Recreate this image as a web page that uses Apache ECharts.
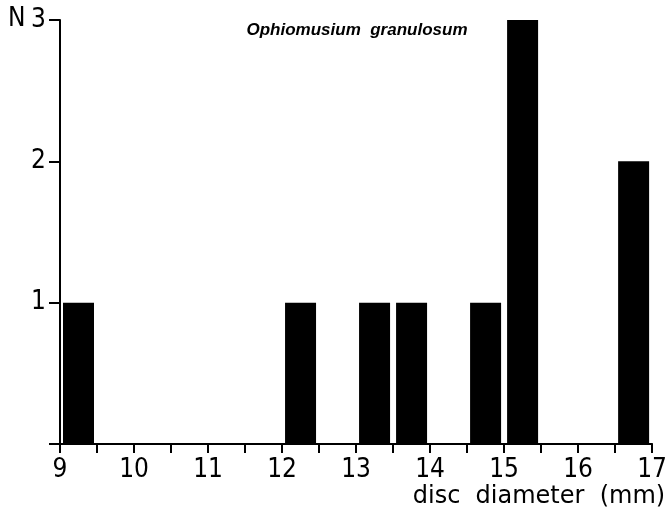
<!DOCTYPE html>
<html>
<head>
<meta charset="utf-8">
<script src="https://cdn.jsdelivr.net/npm/echarts@6/dist/echarts.min.js"></script>
<style>
  html, body { margin: 0; padding: 0; background: #fff; }
  #chart { width: 670px; height: 521px; }
</style>
</head>
<body>
<div id="chart"></div>
<script>
// bin centres (mm) and counts
const binCentres = [9.25, 12.25, 13.25, 13.75, 14.75, 15.25, 16.75]
const counts = [1, 1, 1, 1, 1, 3, 2]
const xTicks = [9, 10, 11, 12, 13, 14, 15, 16, 17]
const yTicks = [1, 2, 3]

const chart = echarts.init(document.getElementById('chart'))
const labelFont = '"DejaVu Sans Condensed", "DejaVu Sans", sans-serif'

const option = {
  animation: false,
  grid: { left: 60, right: 15, top: 20, bottom: 77 },
  title: {
    text: 'Ophiomusium  granulosum',
    left: 352,
    top: 17,
    textAlign: 'center',
    textStyle: { fontFamily: 'Liberation Sans, sans-serif', fontStyle: 'italic', fontWeight: 'bold', fontSize: 17, color: '#000' }
  },
  graphic: [{
    type: 'text', left: 8, top: 6,
    style: { text: 'N', font: '26px ' + labelFont, fill: '#000' }
  }],
  xAxis: {
    type: 'value', min: 9, max: 17, interval: 0.5,
    name: 'disc  diameter  (mm)',
    nameLocation: 'end',
    nameGap: 13,
    nameTextStyle: { fontFamily: 'DejaVu Sans, sans-serif', fontSize: 24, color: '#000', align: 'right', verticalAlign: 'top', padding: [41, 0, 0, 0] },
    splitLine: { show: false },
    axisLine: { lineStyle: { color: '#000', width: 2 } },
    axisTick: { length: 9, lineStyle: { color: '#000', width: 2 } },
    axisLabel: {
      margin: 13, color: '#000', fontSize: 26, fontFamily: labelFont,
      formatter: v => xTicks.includes(v) ? String(v) : ''
    }
  },
  yAxis: {
    type: 'value', min: 0, max: 3, interval: 1,
    splitLine: { show: false },
    axisLine: { show: true, lineStyle: { color: '#000', width: 2 } },
    axisTick: { show: true, length: 11, lineStyle: { color: '#000', width: 2 } },
    axisLabel: {
      margin: 14, color: '#000', fontSize: 26, fontFamily: labelFont,
      formatter: v => yTicks.includes(v) ? String(v) : ''
    }
  },
  series: [{
    type: 'bar',
    barWidth: 31,
    itemStyle: { color: '#000' },
    data: binCentres.map((x, i) => [x, counts[i]])
  }]
}

chart.setOption(option)
</script>
</body>
</html>
